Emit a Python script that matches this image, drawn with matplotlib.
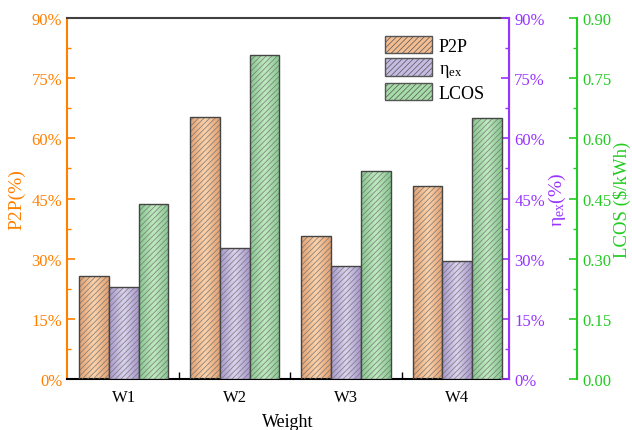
import numpy as np
import matplotlib
matplotlib.use('Agg')
from matplotlib import pyplot as plt
from matplotlib.colors import LinearSegmentedColormap
from matplotlib.ticker import FuncFormatter, MultipleLocator
from matplotlib.patches import Patch

categories = ['W1', 'W2', 'W3', 'W4']
p2p = [25.8, 65.3, 35.7, 48.1]        # %
eta_ex = [23.0, 32.8, 28.2, 29.4]     # %
lcos = [0.436, 0.808, 0.519, 0.651]   # $/kWh

ORANGE = '#ff8000'
PURPLE = '#9933ff'
GREEN = '#22cc22'
HATCH = '//////'

plt.rcParams['font.family'] = ['Liberation Serif', 'DejaVu Serif']
plt.rcParams['mathtext.fontset'] = 'stix'
plt.rcParams['hatch.linewidth'] = 0.5


def gradient_bars(ax, xs, heights, width, dark, light):
    '''bars with a light-centred horizontal gradient and a diagonal hatch'''
    cmap = LinearSegmentedColormap.from_list('g', [dark, light, dark])
    grad = np.linspace(0, 1, 64).reshape(1, -1)
    bars = ax.bar(xs, heights, width, facecolor='none', edgecolor='none', zorder=2)
    for b in bars:
        x0, y0 = b.get_x(), b.get_y()
        im = ax.imshow(grad, cmap=cmap, aspect='auto', zorder=2,
                       extent=(x0, x0 + b.get_width(), y0, y0 + b.get_height()))
        im.set_clip_path(b)
    ax.bar(xs, heights, width, facecolor='none', edgecolor='#777777',
           linewidth=0, hatch=HATCH, zorder=3)
    ax.bar(xs, heights, width, facecolor='none', edgecolor='#454545',
           linewidth=1.0, zorder=4)


x = np.arange(len(categories))
w = 0.267

fig, ax = plt.subplots(figsize=(6.32, 4.31), dpi=100)
fig.subplots_adjust(left=0.106, right=0.806, top=0.956, bottom=0.118)
ax2 = ax.twinx()
ax3 = ax.twinx()
ax3.spines['right'].set_position(('outward', 49))

gradient_bars(ax, x - w, p2p, w, '#e3a070', '#fcd3ac')
gradient_bars(ax2, x, eta_ex, w, '#a797cc', '#dcd4ee')
gradient_bars(ax3, x + w, lcos, w, '#86c78e', '#c0eac0')

for a in (ax, ax2, ax3):
    a.set_xlim(-0.51, 3.47)
ax.set_ylim(0, 90)
ax2.set_ylim(0, 90)
ax3.set_ylim(0, 0.9)

pct = FuncFormatter(lambda v, _: f'{v:.0f}%')

# left axis: P2P
ax.yaxis.set_major_locator(MultipleLocator(15))
ax.yaxis.set_minor_locator(MultipleLocator(7.5))
ax.yaxis.set_major_formatter(pct)
ax.spines['left'].set_color(ORANGE)
ax.spines['left'].set_linewidth(1.5)
ax.tick_params(axis='y', which='both', direction='in', colors=ORANGE, labelsize=12)
ax.tick_params(axis='y', which='major', length=6, width=1.2)
ax.tick_params(axis='y', which='minor', length=3, width=1.0)
ax.set_ylabel('P2P(%)', color=ORANGE, fontsize=14, labelpad=4)

# x axis
ax.set_xticks(x)
ax.set_xticklabels(categories)
ax.set_xticks([0.5, 1.5, 2.5], minor=True)
ax.tick_params(axis='x', which='major', length=0, labelsize=12, pad=7)
ax.tick_params(axis='x', which='minor', direction='in', length=5, width=1.0)
ax.set_xlabel('Weight', fontsize=13, labelpad=6)
ax.spines['top'].set_color('#404040')
ax.spines['top'].set_linewidth(1.5)
ax.spines['bottom'].set_linewidth(1.5)

# right axis: exergy efficiency
for a in (ax2, ax3):
    a.spines['top'].set_visible(False)
    a.spines['left'].set_visible(False)
    a.spines['bottom'].set_visible(False)
ax2.yaxis.set_major_locator(MultipleLocator(15))
ax2.yaxis.set_minor_locator(MultipleLocator(7.5))
ax2.yaxis.set_major_formatter(pct)
ax2.spines['right'].set_color(PURPLE)
ax2.spines['right'].set_linewidth(1.5)
ax2.tick_params(axis='y', which='both', direction='in', colors=PURPLE, labelsize=12)
ax2.tick_params(axis='y', which='major', length=6, width=1.2)
ax2.tick_params(axis='y', which='minor', length=3, width=1.0)
ax2.set_ylabel(r'$\mathregular{\eta_{ex}}$(%)', color=PURPLE, fontsize=14, labelpad=1)

# outer right axis: LCOS
ax3.yaxis.set_major_locator(MultipleLocator(0.15))
ax3.yaxis.set_minor_locator(MultipleLocator(0.075))
ax3.yaxis.set_major_formatter(FuncFormatter(lambda v, _: f'{v:.2f}'))
ax3.spines['right'].set_color(GREEN)
ax3.spines['right'].set_linewidth(1.5)
ax3.tick_params(axis='y', which='both', direction='in', colors=GREEN, labelsize=12)
ax3.tick_params(axis='y', which='major', length=6, width=1.2)
ax3.tick_params(axis='y', which='minor', length=3, width=1.0)
ax3.set_ylabel('LCOS ($/kWh)', color=GREEN, fontsize=13.5, labelpad=1)

handles = [
    Patch(facecolor='#f3bd92', edgecolor='#555555', hatch=HATCH, label='P2P'),
    Patch(facecolor='#c6bbe2', edgecolor='#555555', hatch=HATCH, label=r'$\mathregular{\eta_{ex}}$'),
    Patch(facecolor='#a6dca8', edgecolor='#555555', hatch=HATCH, label='LCOS'),
]
ax3.legend(handles=handles, loc='upper right', bbox_to_anchor=(0.965, 0.975),
           frameon=False, fontsize=13, handlelength=2.6, handleheight=1.1,
           labelspacing=0.2, handletextpad=0.35, borderpad=0)

fig.savefig('out.png', dpi=100)
